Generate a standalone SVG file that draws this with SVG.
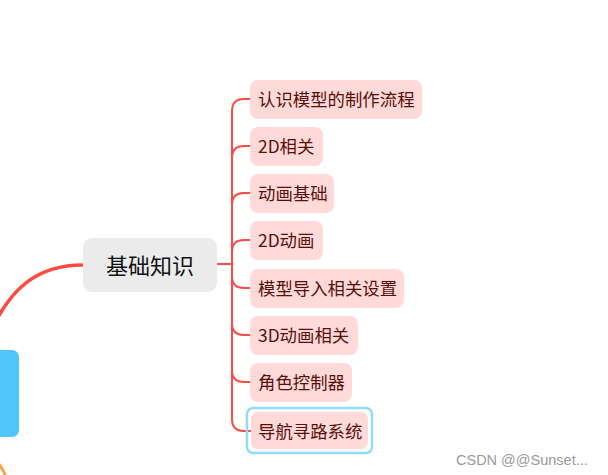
<svg xmlns="http://www.w3.org/2000/svg" width="608" height="475" viewBox="0 0 608 475">
<style>
.br{fill:none;stroke:#ff4b42;stroke-width:2;stroke-linecap:round}
.child rect{fill:#ffdad9}
.child text{font-family:"Noto Sans CJK SC","Liberation Sans",sans-serif;font-size:17.4px;fill:#5a0f0a}
</style>
<rect width="608" height="475" fill="#ffffff"/>
<g id="connectors">
<path d="M -12 338 C 10 285, 40 265, 83 265" fill="none" stroke="#ff4b42" stroke-width="3.5"/>
<path d="M -2 463 Q 3 469 6 477" fill="none" stroke="#f5a24a" stroke-width="3"/>
<path class="br" d="M 217 264 L 232 264"/>
<path class="br" d="M 232 264 L 232 111 Q 232 99 244 99 L 251 99"/>
<path class="br" d="M 232 264 L 232 158 Q 232 146 244 146 L 251 146"/>
<path class="br" d="M 232 264 L 232 205 Q 232 193 244 193 L 251 193"/>
<path class="br" d="M 232 264 L 232 252 Q 232 240 244 240 L 251 240"/>
<path class="br" d="M 232 264 L 232 276 Q 232 288 244 288 L 251 288"/>
<path class="br" d="M 232 264 L 232 323 Q 232 335 244 335 L 251 335"/>
<path class="br" d="M 232 264 L 232 370 Q 232 382 244 382 L 251 382"/>
<path class="br" d="M 232 264 L 232 419 Q 232 431 244 431 L 251 431"/>
</g>
<g id="node-left">
<rect x="-20" y="350" width="39" height="87" rx="7" fill="#50c5f8"/>
</g>
<g id="node-main">
<rect x="83" y="238" width="134" height="54" rx="9" fill="#ebebeb"/>
<text x="150" y="274" text-anchor="middle" font-family="Noto Sans CJK SC,Liberation Sans,sans-serif" font-size="22" fill="#111111">基础知识</text>
</g>
<g id="child1" class="child"><rect x="250" y="80" width="172" height="39" rx="8"/><text x="258" y="105.5">认识模型的制作流程</text></g>
<g id="child2" class="child"><rect x="250" y="127" width="73" height="39" rx="8"/><text x="258" y="152.5">2D相关</text></g>
<g id="child3" class="child"><rect x="250" y="174" width="84" height="39" rx="8"/><text x="258" y="199.5">动画基础</text></g>
<g id="child4" class="child"><rect x="250" y="221" width="73" height="39" rx="8"/><text x="258" y="246.5">2D动画</text></g>
<g id="child5" class="child"><rect x="250" y="269" width="154" height="39" rx="8"/><text x="258" y="294.5">模型导入相关设置</text></g>
<g id="child6" class="child"><rect x="250" y="316" width="108" height="39" rx="8"/><text x="258" y="341.5">3D动画相关</text></g>
<g id="child7" class="child"><rect x="250" y="363" width="102" height="39" rx="8"/><text x="258" y="388.5">角色控制器</text></g>
<g id="child8" class="child"><rect x="247" y="408" width="125" height="45" rx="6" fill="none" stroke="#92dcfb" stroke-width="2.5" style="fill:none"/><rect x="251" y="412" width="117" height="37" rx="7"/><text x="258" y="437.5">导航寻路系统</text></g>
<text x="456" y="465" font-family="Liberation Sans,sans-serif" font-size="14.5" fill="#9a9a9a">CSDN @@Sunset...</text>
</svg>
